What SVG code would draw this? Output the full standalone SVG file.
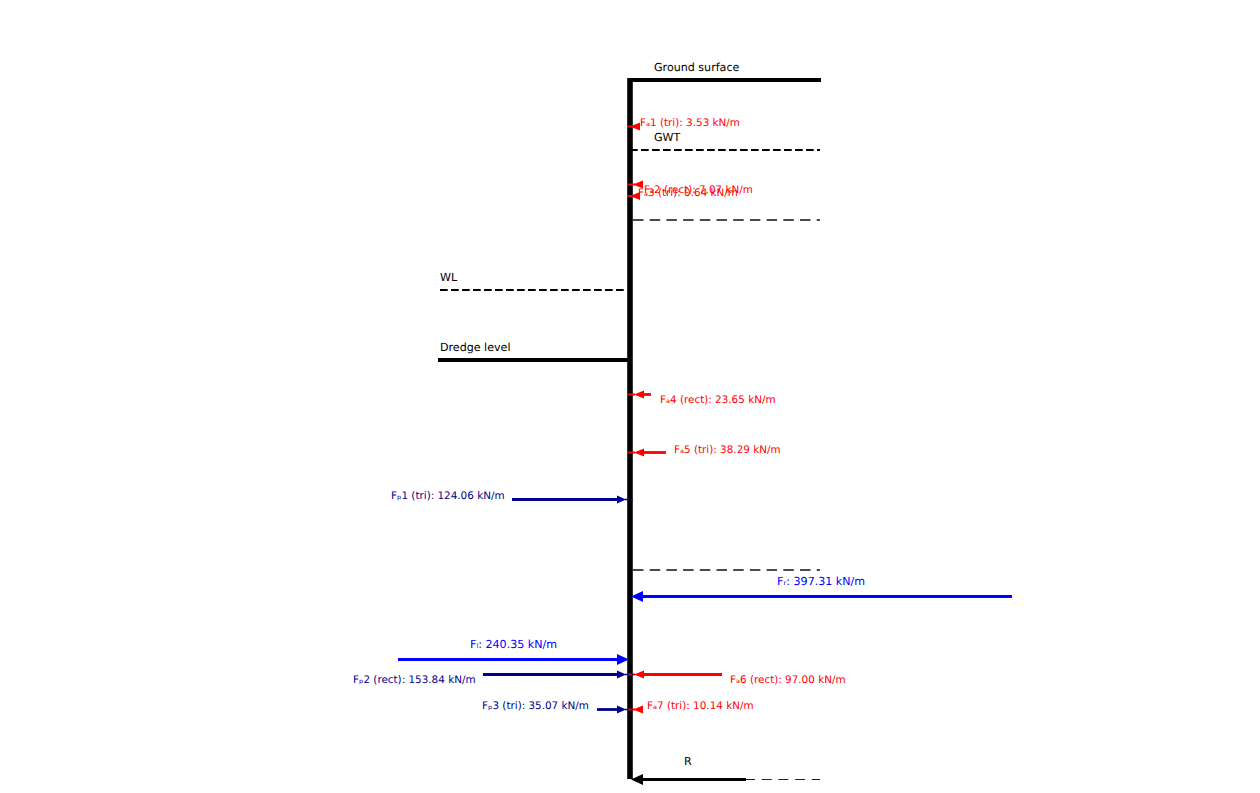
<svg xmlns="http://www.w3.org/2000/svg" width="1260" height="793" viewBox="0 0 1260 793">
<style>
text{font-family:"DejaVu Sans",sans-serif;font-size:11.1px;text-rendering:geometricPrecision}
.f{font-size:10.4px}
.k{fill:#000}.r{fill:#f00}.n{fill:#00008b}.b{fill:#00f}
.lv{fill:none;stroke:#000}
.d1{stroke-width:2.08;stroke-dasharray:7.7 3.3}
.d2{stroke-width:1.7;stroke-dasharray:10.5 6.2;stroke:#111}
.d3{stroke-width:1;stroke-dasharray:10 6.7;stroke:#222}
.ar{fill:none;stroke:#f00;stroke-width:2.8}
.an{fill:none;stroke:#00008b;stroke-width:2.8}
.sr{stroke:#f00;stroke-width:2}
.sn{stroke:#00008b;stroke-width:1.5;stroke-dasharray:4 2}
</style>
<rect width="1260" height="793" fill="#fff"/>
<g id="wall"><path d="M630 78V779" fill="none" stroke="#000" stroke-width="5.600"/></g>
<g id="connectors">
<path class="lv d1" d="M630 150H820"/>
<path class="lv d2" d="M633 220H820"/>
<path class="lv d1" d="M440 290H626"/>
<path class="lv d2" d="M633 570H820"/>
<path class="lv d3" d="M745 779.500H820"/>
<path d="M438 360H630M630 80H821" fill="none" stroke="#000" stroke-width="4.200"/>
<g id="active-arrows">
<path class="sr" d="M627 126.500H635M627 184.500H635M627 196H635M627 394.500H635M627 452.500H635M627 674.500H635M627 709.500H635"/>
<path class="r" d="M630 126.500L640 122.500V130.500Z"/>
<path class="r" d="M633 184.500L643 180.500V188.500Z"/>
<path class="r" d="M630 196L640 192V200Z"/>
<path class="ar" d="M642 394.500H651"/><path class="r" d="M634 394.500L644 390.500V398.500Z"/>
<path class="ar" d="M642 452.500H666"/><path class="r" d="M634 452.500L644 448.500V456.500Z"/>
<path class="ar" d="M642 674.500H722"/><path class="r" d="M634 674.500L644 670.500V678.500Z"/>
<path class="r" d="M633 709.500L643 705.500V713.500Z"/>
</g>
<g id="passive-arrows">
<path class="sn" d="M625 499.500H633M625 674.500H633M625 709.500H633"/>
<path class="an" d="M512 499.500H620"/><path class="n" d="M626 499.500L617 495.500V503.500Z"/>
<path class="an" d="M483 674.500H620"/><path class="n" d="M626 674.500L617 670.500V678.500Z"/>
<path class="an" d="M597 709.500H620"/><path class="n" d="M626 709.500L617 705.500V713.500Z"/>
</g>
<g id="resultant-arrows">
<path d="M398 659.500H620" fill="none" stroke="#00f" stroke-width="2.800"/><path class="b" d="M629 659.500L617 654V665Z"/>
<path d="M642 596.500H1012" fill="none" stroke="#00f" stroke-width="2.800"/><path class="b" d="M631 596.500L643 591V602Z"/>
<path d="M640 779.500H746" fill="none" stroke="#000" stroke-width="2.800"/><path class="k" d="M631 779.500L643 774V785Z"/>
</g>
</g>
<g id="level-labels">
<text class="k" x="654" y="71">Ground surface</text>
<text class="k" x="654" y="141">GWT</text>
<text class="k" x="440" y="281">WL</text>
<text class="k" x="440" y="351">Dredge level</text>
<text class="k" x="684" y="765">R</text>
</g>
<g id="force-labels">
<text class="r f" x="640" y="126">Fₐ1 (tri): 3.53 kN/m</text>
<text class="r f" x="644" y="193">Fₐ2 (rect): 7.07 kN/m</text>
<text class="r f" x="638" y="196">Fₐ3 (tri): 0.64 kN/m</text>
<text class="r f" x="660" y="403">Fₐ4 (rect): 23.65 kN/m</text>
<text class="r f" x="674" y="453">Fₐ5 (tri): 38.29 kN/m</text>
<text class="r f" x="730" y="683">Fₐ6 (rect): 97.00 kN/m</text>
<text class="r f" x="647" y="709">Fₐ7 (tri): 10.14 kN/m</text>
<text class="n f" x="391" y="499">Fₚ1 (tri): 124.06 kN/m</text>
<text class="n f" x="353" y="683">Fₚ2 (rect): 153.84 kN/m</text>
<text class="n f" x="482" y="709">Fₚ3 (tri): 35.07 kN/m</text>
<text class="b" x="777" y="585">Fᵣ: 397.31 kN/m</text>
<text class="b" x="470" y="648">Fₗ: 240.35 kN/m</text>
</g>
</svg>
